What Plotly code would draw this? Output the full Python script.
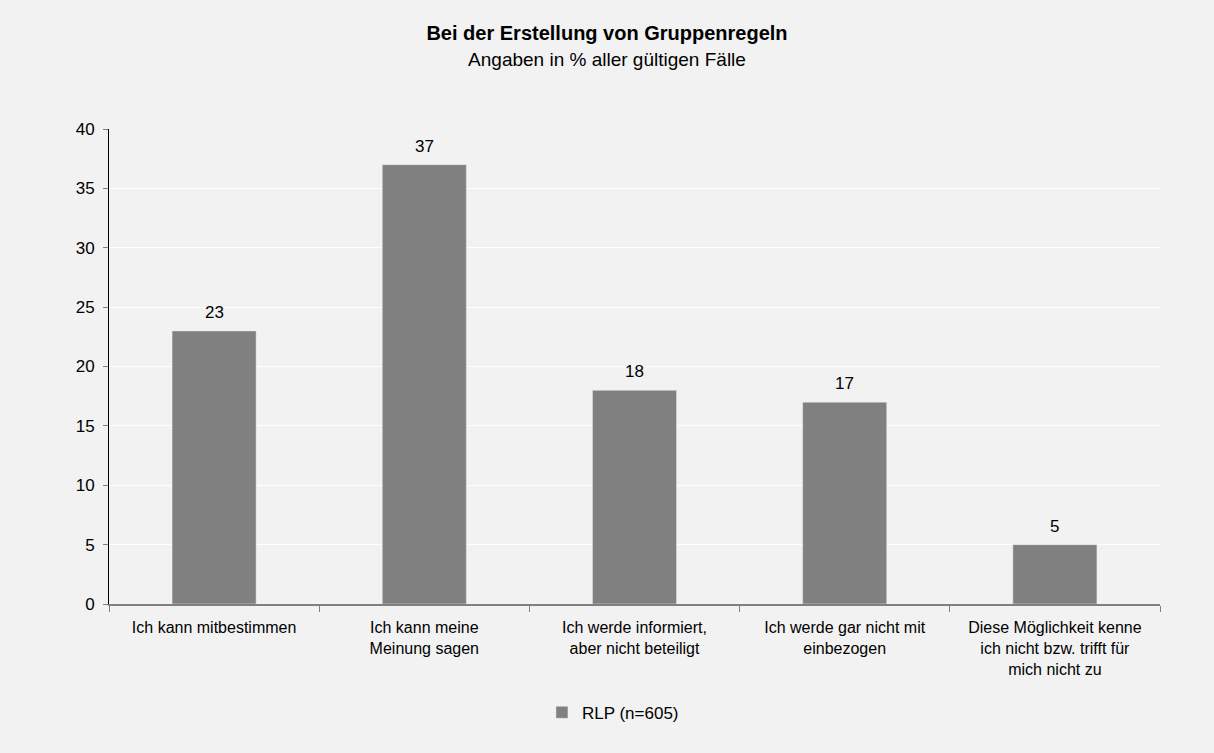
import plotly.graph_objects as go

# Daten
kategorien = [
    "Ich kann mitbestimmen",
    "Ich kann meine<br>Meinung sagen",
    "Ich werde informiert,<br>aber nicht beteiligt",
    "Ich werde gar nicht mit<br>einbezogen",
    "Diese Möglichkeit kenne<br>ich nicht bzw. trifft für<br>mich nicht zu",
]
werte = [23, 37, 18, 17, 5]
serie = "RLP (n=605)"
y_ticks = [0, 5, 10, 15, 20, 25, 30, 35, 40]

FONT = "Liberation Sans, Arial, sans-serif"
GRAU = "#808080"
HG = "#f2f2f2"

fig = go.Figure()
fig.add_trace(
    go.Bar(
        x=kategorien,
        y=werte,
        name=serie,
        marker_color=GRAU,
        width=0.4,
    )
)

# Datenbeschriftungen über den Balken
for kat, wert in zip(kategorien, werte):
    fig.add_annotation(
        x=kat,
        y=wert,
        text=str(wert),
        showarrow=False,
        yanchor="bottom",
        yshift=7,
        font=dict(size=17, color="#000000", family=FONT),
    )

fig.update_layout(
    width=1214,
    height=753,
    paper_bgcolor=HG,
    plot_bgcolor=HG,
    font=dict(family=FONT, size=16, color="#000000"),
    title=dict(
        text="<b>Bei der Erstellung von Gruppenregeln</b><br><span style='font-size:19px'>Angaben in % aller gültigen Fälle</span>",
        x=0.5,
        xanchor="center",
        y=0.947,
        yanchor="top",
        font=dict(size=20, family=FONT, color="#000000"),
    ),
    margin=dict(l=109, r=54, t=129, b=149, autoexpand=False),
    showlegend=True,
    legend=dict(
        orientation="h",
        x=0.4795,
        xanchor="center",
        y=-0.229,
        yanchor="middle",
        font=dict(size=17),
        itemwidth=30,
    ),
    bargap=0.6,
)

fig.update_xaxes(
    type="category",
    showline=True,
    linecolor=GRAU,
    linewidth=1.5,
    ticks="outside",
    tickson="boundaries",
    ticklen=6,
    tickcolor=GRAU,
    showgrid=False,
    tickfont=dict(size=16),
    tickangle=0,
    ticklabelstandoff=8,
)
fig.update_yaxes(
    range=[0, 40],
    tickvals=y_ticks,
    showline=True,
    linecolor="#000000",
    linewidth=1,
    ticks="outside",
    ticklen=5,
    tickcolor=GRAU,
    showgrid=True,
    gridcolor="#ffffff",
    gridwidth=1,
    zeroline=False,
    tickfont=dict(size=17),
    ticklabelstandoff=5,
)

fig.write_html(
    "out.html",
    config={"displayModeBar": False},
    post_script="document.body.style.margin='0';document.body.style.background='#f2f2f2';document.body.style.overflow='hidden';",
)
